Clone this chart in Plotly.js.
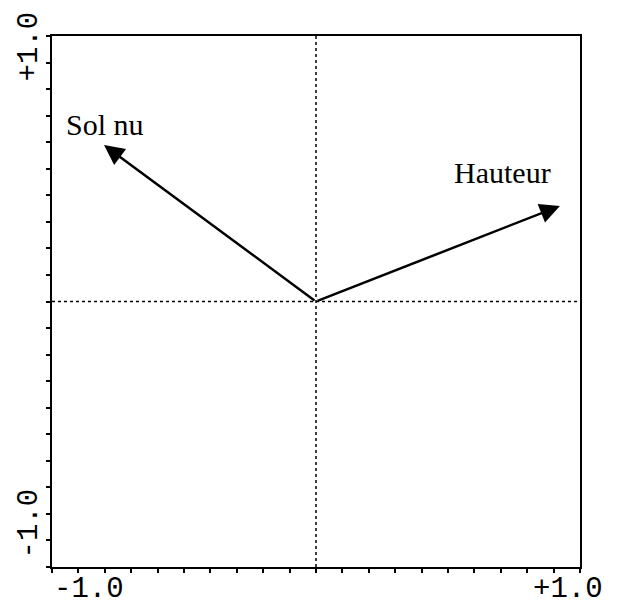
<!DOCTYPE html>
<html>
<head>
<meta charset="utf-8">
<script src="https://cdn.plot.ly/plotly-3.0.1.min.js"></script>
<style>
  html, body { margin: 0; padding: 0; background: #ffffff; }
  #chart { width: 625px; height: 604px; }
</style>
</head>
<body>
<div id="chart"></div>
<script>
const variables = ['Sol nu', 'Hauteur'];
const loadX = [-0.803, 0.924];
const loadY = [0.589, 0.36];
// label offsets from the arrow tip, in pixels
const labelShiftX = [1, -57];
const labelShiftY = [21, 33];
const axisMin = -1.0;
const axisMax = 1.0;
const tickLabels = ['-1.0', '+1.0'];

const monoFont = { family: 'Liberation Mono, Courier New, monospace', size: 29, color: '#000000' };
const serifFont = { family: 'Liberation Serif, Times New Roman, serif', size: 30, color: '#000000' };

const annotations = [];
variables.forEach((name, i) => {
  annotations.push({
    x: loadX[i], y: loadY[i], xref: 'x', yref: 'y',
    ax: 0, ay: 0, axref: 'x', ayref: 'y',
    text: '', showarrow: true,
    arrowhead: 2, arrowsize: 1.6, arrowwidth: 2.5, arrowcolor: '#000000'
  });
  annotations.push({
    x: loadX[i], y: loadY[i], xref: 'x', yref: 'y',
    text: name, showarrow: false,
    xshift: labelShiftX[i], yshift: labelShiftY[i],
    font: serifFont
  });
});

// axis end labels, drawn off the tick positions like the original
annotations.push(
  { x: 0, y: 0, xref: 'paper', yref: 'paper', xanchor: 'left', yanchor: 'middle', height: 28, yshift: -22, text: tickLabels[0], showarrow: false, font: monoFont },
  { x: 1, y: 0, xref: 'paper', yref: 'paper', xanchor: 'left', yanchor: 'middle', height: 28, xshift: -49, yshift: -22, text: tickLabels[1], showarrow: false, font: monoFont },
  { x: 0, y: 1, xref: 'paper', yref: 'paper', xanchor: 'right', yanchor: 'middle', xshift: -5, yshift: -11, textangle: -90, text: tickLabels[1], showarrow: false, font: monoFont },
  { x: 0, y: 0, xref: 'paper', yref: 'paper', xanchor: 'right', yanchor: 'middle', xshift: -5, yshift: 43, textangle: -90, text: tickLabels[0], showarrow: false, font: monoFont }
);

const axisStyle = {
  range: [axisMin, axisMax],
  showgrid: false,
  zeroline: false,
  showline: true,
  mirror: true,
  linecolor: '#000000',
  linewidth: 2,
  ticks: 'outside',
  ticklen: 4,
  tickwidth: 2,
  tickcolor: '#000000',
  dtick: 0.1,
  tick0: 0,
  showticklabels: false,
  fixedrange: true
};

Plotly.newPlot('chart', [{
  x: [0], y: [0], mode: 'markers', marker: { size: 1, color: 'rgba(0,0,0,0)' },
  hoverinfo: 'skip', showlegend: false
}], {
  width: 625,
  height: 604,
  paper_bgcolor: '#ffffff',
  plot_bgcolor: '#ffffff',
  margin: { l: 52, r: 45, t: 36, b: 37 },
  showlegend: false,
  xaxis: axisStyle,
  yaxis: axisStyle,
  shapes: [
    { type: 'line', xref: 'x', yref: 'y', x0: 0, x1: 0, y0: axisMin, y1: axisMax, line: { color: '#000000', width: 1.5, dash: 'dot' }, layer: 'below' },
    { type: 'line', xref: 'x', yref: 'y', x0: axisMin, x1: axisMax, y0: 0, y1: 0, line: { color: '#000000', width: 1.5, dash: 'dot' }, layer: 'below' }
  ],
  annotations: annotations
}, { displayModeBar: false, staticPlot: true });
</script>
</body>
</html>
